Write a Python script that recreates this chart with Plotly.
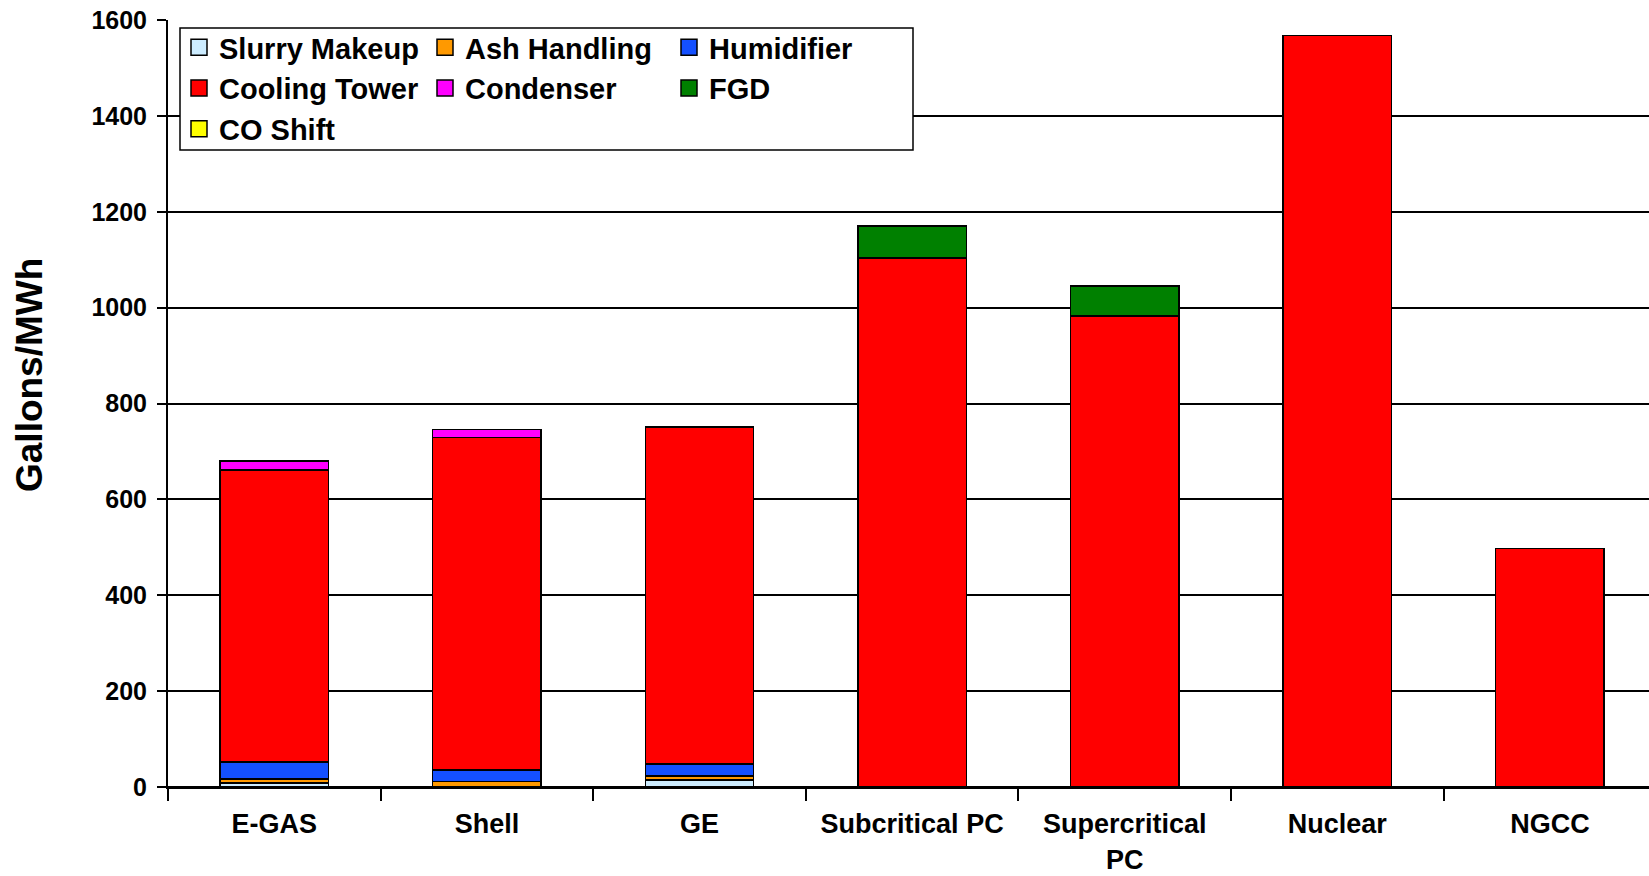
import plotly.graph_objects as go

categories = ["E-GAS", "Shell", "GE", "Subcritical PC", "Supercritical<br>PC", "Nuclear", "NGCC"]

slurry_makeup = [8, None, 15, None, None, None, None]
ash_handling = [9, 12, 8, None, None, None, None]
co_shift = [None, None, None, None, None, None, None]
humidifier = [35, 23, 25, None, None, None, None]
cooling_tower = [609, 694, 703, 1104, 983, 1568, 498]
condenser = [19, 17, None, None, None, None, None]
fgd = [None, None, None, 66, 62, None, None]

yticks = [0, 200, 400, 600, 800, 1000, 1200, 1400, 1600]

FONT = "Liberation Sans, Arial, sans-serif"

# (name, values, color, legend group, rank within legend column)
series = [
    ("Slurry Makeup", slurry_makeup, "#CCECFF", "legend", 1),
    ("Ash Handling", ash_handling, "#FF9900", "legend2", 1),
    ("CO Shift", co_shift, "#FFFF00", "legend", 3),
    ("Humidifier", humidifier, "#1450FF", "legend3", 1),
    ("Cooling Tower", cooling_tower, "#FF0000", "legend", 2),
    ("Condenser", condenser, "#FF00FF", "legend2", 2),
    ("FGD", fgd, "#008000", "legend3", 2),
]

fig = go.Figure()
for name, vals, color, lg, rank in series:
    fig.add_trace(go.Bar(
        x=categories, y=vals, name=name,
        marker=dict(color=color, line=dict(color="black", width=1.5)),
        showlegend=False, legendgroup=name,
    ))
# legend keys (square swatches like the original chart)
for name, vals, color, lg, rank in series:
    fig.add_trace(go.Scatter(
        x=[None], y=[None], name=name, mode="markers",
        marker=dict(symbol="square", size=16, color=color,
                    line=dict(color="black", width=1.5)),
        legend=lg, legendrank=rank, legendgroup=name, showlegend=True,
    ))

W, H = 1649, 876
L, R, T, B = 168, 0, 20, 89
pw, ph = W - L - R, H - T - B

def px_x(px):
    return (px - L) / pw

def px_y(py):
    return (H - B - py) / ph

legend_common = dict(
    orientation="v", xanchor="left", yanchor="top",
    font=dict(family=FONT, size=29, color="black", weight="bold"),
    bgcolor="rgba(0,0,0,0)", borderwidth=0, traceorder="normal",
    tracegroupgap=0, itemclick=False, itemwidth=30,
)

fig.update_layout(
    width=W, height=H,
    margin=dict(l=L, r=R, t=T, b=B, autoexpand=False),
    paper_bgcolor="white", plot_bgcolor="white",
    barmode="stack", bargap=0.49,
    font=dict(family=FONT, color="black"),
    legend=dict(x=px_x(179), y=px_y(22), **legend_common),
    legend2=dict(x=px_x(425), y=px_y(22), **legend_common),
    legend3=dict(x=px_x(669), y=px_y(22), **legend_common),
    xaxis=dict(
        range=[-0.5, 6.466], automargin=False,
        tickfont=dict(family=FONT, size=27, color="black", weight="bold"),
        showline=True, linecolor="black", linewidth=2,
        ticks="outside", tickson="boundaries", ticklen=12, tickwidth=1.5,
        tickcolor="black", showgrid=False, ticklabelstandoff=12,
    ),
    yaxis=dict(
        range=[0, 1600], tickvals=yticks, automargin=False,
        tickfont=dict(family=FONT, size=25, color="black", weight="bold"),
        showline=True, linecolor="black", linewidth=2,
        ticks="outside", ticklen=9, tickwidth=1.5, tickcolor="black",
        showgrid=True, gridcolor="black", gridwidth=1.5,
        zeroline=True, zerolinecolor="black", zerolinewidth=2,
        ticklabelstandoff=5,
    ),
    shapes=[dict(
        type="rect", xref="paper", yref="paper",
        x0=px_x(180), x1=px_x(913), y0=px_y(150), y1=px_y(28),
        line=dict(color="black", width=1.5), fillcolor="white", layer="above",
    )],
    annotations=[dict(
        text="Gallons/MWh", xref="paper", yref="paper",
        x=px_x(29), y=px_y(375), xanchor="center", yanchor="middle",
        textangle=-90, showarrow=False,
        font=dict(family=FONT, size=37, color="black", weight="bold"),
    )],
)

fig.write_html("out.html")
